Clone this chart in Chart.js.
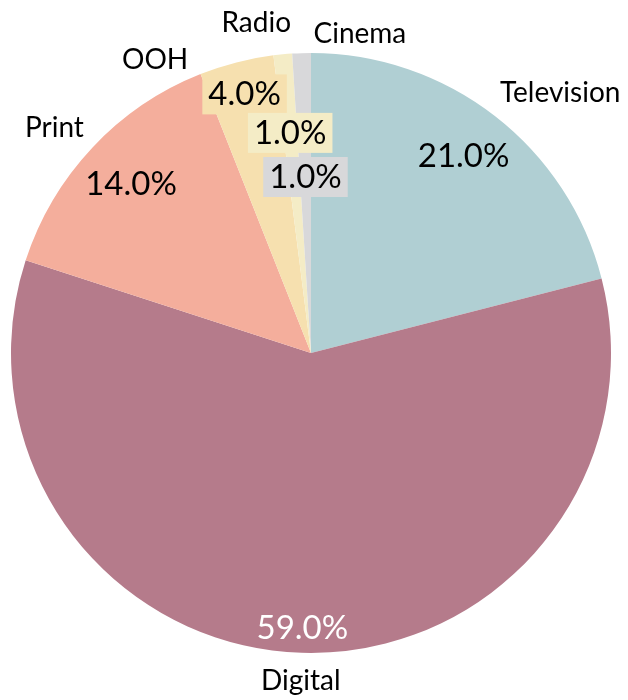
<!DOCTYPE html>
<html>
<head>
<meta charset="utf-8">
<script src="https://cdn.jsdelivr.net/npm/chart.js@4"></script>
<style>
  body { margin: 0; background: #fff; }
  #wrap { width: 628px; height: 700px; position: relative; }
</style>
</head>
<body>
<div id="wrap"><canvas id="pie"></canvas></div>
<script>
let categories = ['Television', 'Digital', 'Print', 'OOH', 'Radio', 'Cinema'];
let shares = [21, 59, 14, 4, 1, 1];
let colors = ['#b0cfd3', '#b57b8b', '#f4ae9c', '#f6e0af', '#f4ecc6', '#d8d8da'];

// label placement, tuned by eye: [angle shift in degrees, distance beyond the rim]
let namePlace = [[6, 60], [0, 28], [-2, 41], [-13.6, 32], [-4, 35], [10.5, 23]];
// percent label: [fraction of radius]
let pctPlace = [0.83, 0.917, 0.823, 0.89, 0.737, 0.587];
let pctBoxed = [false, false, false, true, true, true];
let pctColor = ['#000', '#fff', '#000', '#000', '#000', '#000'];

let pieLabels = {
    id: 'pieLabels',
    afterDatasetsDraw(chart) {
        let ctx = chart.ctx;
        let arcs = chart.getDatasetMeta(0).data;
        ctx.save();
        ctx.textAlign = 'center';
        ctx.textBaseline = 'middle';
        arcs.forEach(function (arc, i) {
            let mid = (arc.startAngle + arc.endAngle) / 2;
            let r = arc.outerRadius;

            // percent
            let txt = shares[i].toFixed(1) + '%';
            ctx.font = '33px Lato';
            let px = arc.x + Math.cos(mid) * r * pctPlace[i];
            let py = arc.y + Math.sin(mid) * r * pctPlace[i];
            if (pctBoxed[i]) {
                let w = ctx.measureText(txt).width + 12;
                ctx.fillStyle = colors[i];
                ctx.fillRect(px - w / 2, py - 20, w, 40);
            }
            ctx.fillStyle = pctColor[i];
            ctx.fillText(txt, px, py);

            // category name
            let a = mid + namePlace[i][0] * Math.PI / 180;
            let d = r + namePlace[i][1];
            ctx.font = '28px Lato';
            ctx.fillStyle = '#000';
            ctx.fillText(categories[i], arc.x + Math.cos(a) * d, arc.y + Math.sin(a) * d);
        });
        ctx.restore();
    }
};

new Chart(document.getElementById('pie').getContext('2d'), {
    type: 'pie',
    data: {
        labels: categories,
        datasets: [{
            data: shares,
            backgroundColor: colors,
            borderWidth: 0
        }]
    },
    options: {
        responsive: true,
        maintainAspectRatio: false,
        animation: false,
        layout: { padding: { left: 11, right: 17, top: 53, bottom: 47 } },
        plugins: {
            legend: { display: false },
            tooltip: { enabled: false }
        }
    },
    plugins: [pieLabels]
});
</script>
</body>
</html>
